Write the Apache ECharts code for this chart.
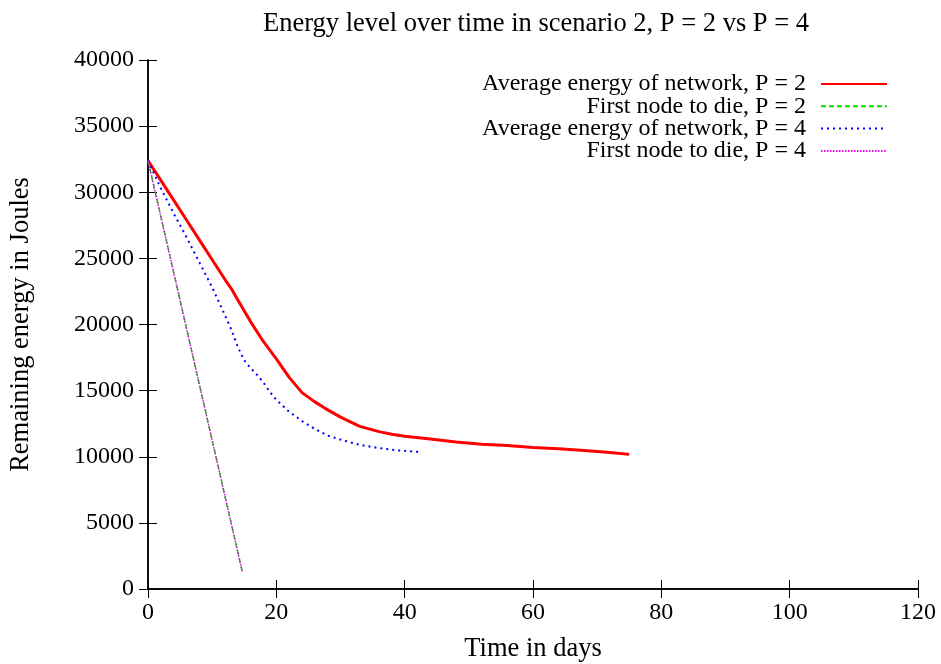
<!DOCTYPE html>
<html>
<head>
<meta charset="utf-8">
<script src="https://cdn.jsdelivr.net/npm/echarts@6/dist/echarts.min.js"></script>
<style>html,body{margin:0;padding:0;background:#fff}#c{width:941px;height:664px}</style>
</head>
<body>
<div id="c"></div>
<script>
var titleText = 'Energy level over time in scenario 2, P = 2 vs P = 4';
var xName = 'Time in days';
var yName = 'Remaining energy in Joules';
var seriesNames = ['Average energy of network, P = 2','First node to die, P = 2','Average energy of network, P = 4','First node to die, P = 4'];

var avgP2Days = [0,2,4,6,8,10,12,13,14,16,18,20,22,24,26,27.6,30,33,36,38,40,44,48,52,56,60,64,68,72,75];
var avgP2Vals = [32400,30900,29400,27900,26400,24900,23400,22700,21850,20200,18700,17400,16000,14850,14150,13660,13000,12300,11900,11700,11550,11350,11120,10950,10850,10700,10600,10480,10320,10180];

var firstP2Days = [0,14.7];
var firstP2Vals = [32400,1300];

var avgP4Days = [0,2,4,6,8,10,12,13,14,15,16,17,18,19,20,22,24,26,28,30,33,36,39,42.7];
var avgP4Vals = [32400,30300,28400,26600,24700,22800,20700,19600,18300,17300,16700,16200,15600,14900,14300,13400,12700,12100,11600,11300,10900,10650,10480,10350];

var firstP4Days = [0,14.7];
var firstP4Vals = [32400,1300];

function pairs(xs, ys){ return xs.map(function(x,i){return [x, ys[i]];}); }

var FONT = 'Liberation Serif';
var chart = echarts.init(document.getElementById('c'), null, {renderer:'canvas'});

var styles = [
  {color:'#ff0000', width:3, type:'solid'},
  {color:'#00dd00', width:1.5, type:[5,3]},
  {color:'#0000ff', width:2, type:[2,4]},
  {color:'#ee00ee', width:1.5, type:[1.5,1.5]}
];
var datas = [pairs(avgP2Days,avgP2Vals), pairs(firstP2Days,firstP2Vals), pairs(avgP4Days,avgP4Vals), pairs(firstP4Days,firstP4Vals)];

var series = seriesNames.map(function(n,i){
  return {
    name:n, type:'line', data:datas[i], showSymbol:false, symbol:'none',
    lineStyle:{color:styles[i].color, width:styles[i].width, type:styles[i].type},
    itemStyle:{color:styles[i].color},
    animation:false, z: 2+i
  };
});

function plain(v){ return String(v); }

chart.setOption({
  animation:false,
  backgroundColor:'#fff',
  title:{text:titleText, left:531, top:6, textAlign:'center',
    textStyle:{fontFamily:FONT, fontSize:26.5, fontWeight:'normal', color:'#000'}},
  legend:{
    data: seriesNames, orient:'vertical', align:'right',
    right: 53, top: 72, itemWidth: 66, itemHeight: 14, itemGap: -1.7, padding: 0,
    itemStyle:{opacity:0},
    textStyle:{fontFamily:FONT, fontSize:24, color:'#000', lineHeight:22, padding:[0,10,0,0]},
    selectedMode:false
  },
  grid:{left:148, right:23, top:60, bottom:75, outerBoundsMode:'none', containLabel:false},
  xAxis:[{
    type:'value', min:0, max:120, interval:20,
    name:xName, nameLocation:'middle', nameGap:47,
    nameTextStyle:{fontFamily:FONT, fontSize:26.5, color:'#000'},
    axisLine:{show:true, onZero:false, lineStyle:{color:'#000', width:1.5}},
    axisTick:{show:true, inside:true, length:9, lineStyle:{color:'#000', width:1}},
    axisLabel:{fontFamily:FONT, fontSize:24, color:'#000', margin:12, formatter:plain},
    splitLine:{show:false}
  },{
    type:'value', min:0, max:120, interval:20, position:'top',
    axisLine:{show:true, lineStyle:{color:'#000', width:1.5}},
    axisTick:{show:true, inside:true, length:9, lineStyle:{color:'#000', width:1}},
    axisLabel:{show:false}, splitLine:{show:false}
  }],
  yAxis:[{
    type:'value', min:0, max:40000, interval:5000,
    name:yName, nameLocation:'middle', nameGap:113,
    nameTextStyle:{fontFamily:FONT, fontSize:26.5, color:'#000'},
    axisLine:{show:true, onZero:false, lineStyle:{color:'#000', width:1.5}},
    axisTick:{show:true, inside:true, length:9, lineStyle:{color:'#000', width:1}},
    axisLabel:{fontFamily:FONT, fontSize:24, color:'#000', margin:14, formatter:plain},
    splitLine:{show:false}
  },{
    type:'value', min:0, max:40000, interval:5000, position:'right',
    axisLine:{show:true, lineStyle:{color:'#000', width:1.5}},
    axisTick:{show:true, inside:true, length:9, lineStyle:{color:'#000', width:1}},
    axisLabel:{show:false}, splitLine:{show:false}
  }],
  series: series
});
</script>
</body>
</html>
